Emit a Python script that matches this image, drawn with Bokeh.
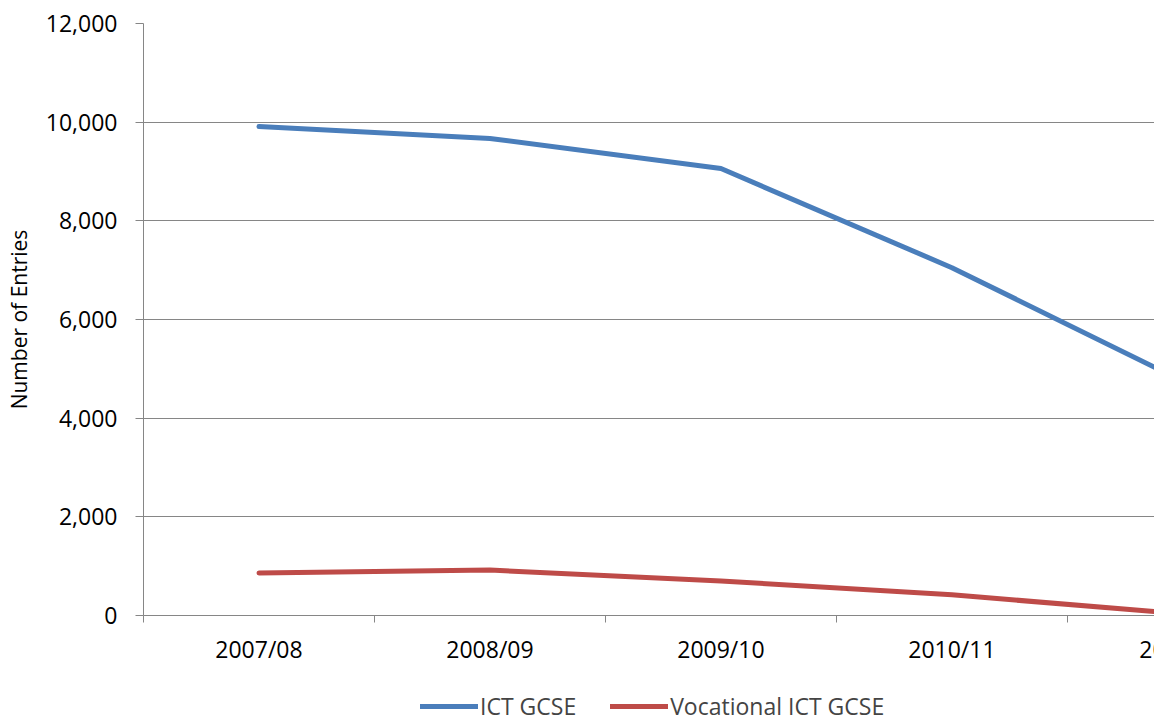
from bokeh.plotting import figure
from bokeh.models import (FixedTicker, NumeralTickFormatter, Legend, LegendItem, Range1d,
                          LabelSet, ColumnDataSource)
from bokeh.layouts import column
from bokeh.embed import file_html
from bokeh.resources import INLINE
from bokeh.core.properties import value

years = ["2007/08", "2008/09", "2009/10", "2010/11", "2011/12"]
ict_gcse = [9910, 9670, 9060, 7050, 4750]
vocational_ict_gcse = [860, 920, 700, 420, 30]
y_ticks = [0, 2000, 4000, 6000, 8000, 10000, 12000]

FONT = "Open Sans"
GRID = "#868686"
BLUE = "#4A7EBB"
RED = "#BE4B48"
X_END = 4.377   # the reference is cut just before the last category

xs = [i + 0.5 for i in range(len(years))]

# ---------------- main plot ----------------
p = figure(
    output_backend="svg", toolbar_location=None,
    frame_width=1011, frame_height=592,
    min_border_left=143, min_border_right=0, min_border_top=23, min_border_bottom=16,
    x_range=Range1d(0, X_END), y_range=Range1d(0, 12000),
)
p.outline_line_color = None

p.line(xs, ict_gcse, line_color=BLUE, line_width=5, line_cap="round", line_join="round")
p.line(xs, vocational_ict_gcse, line_color=RED, line_width=5, line_cap="round", line_join="round")

# x axis: boundary ticks only (category labels drawn in the strip below)
p.xaxis.ticker = FixedTicker(ticks=[], minor_ticks=[0, 1, 2, 3, 4])
p.xaxis.major_tick_out = 0
p.xaxis.major_tick_in = 0
p.xaxis.minor_tick_out = 7
p.xaxis.minor_tick_in = 0
p.xaxis.minor_tick_line_color = GRID
p.xaxis.axis_line_color = GRID
p.xaxis.major_label_standoff = 0
p.xaxis.major_label_text_font_size = "1px"

# y axis
p.yaxis.ticker = FixedTicker(ticks=y_ticks)
p.yaxis.formatter = NumeralTickFormatter(format="0,0")
p.yaxis.minor_tick_line_color = None
p.yaxis.major_tick_out = 8
p.yaxis.major_tick_in = 0
p.yaxis.major_tick_line_color = GRID
p.yaxis.axis_line_color = GRID
p.yaxis.major_label_standoff = 18
p.yaxis.major_label_text_font = FONT
p.yaxis.major_label_text_font_size = "23px"
p.yaxis.major_label_text_color = "black"
p.yaxis.axis_label = "Number of Entries"
p.yaxis.axis_label_text_font = FONT
p.yaxis.axis_label_text_font_size = "21px"
p.yaxis.axis_label_text_font_style = "normal"
p.yaxis.axis_label_text_color = "black"
p.yaxis.axis_label_standoff = 10

p.xgrid.grid_line_color = None
p.ygrid.ticker = FixedTicker(ticks=y_ticks)
p.ygrid.grid_line_color = GRID
p.ygrid.grid_line_width = 1

# ---------------- strip below: category labels + legend ----------------
STRIP_H = 91
q = figure(
    output_backend="svg", toolbar_location=None,
    frame_width=1011, frame_height=STRIP_H,
    min_border_left=143, min_border_right=0, min_border_top=0, min_border_bottom=0,
    x_range=p.x_range, y_range=Range1d(STRIP_H, 0),
    x_axis_type=None, y_axis_type=None,
)
q.outline_line_color = None
q.xgrid.grid_line_color = None
q.ygrid.grid_line_color = None
# a range far away from the data, so the legend's own lines stay out of sight
q.extra_y_ranges = {"off": Range1d(50000, 60000)}

src = ColumnDataSource(dict(x=xs, y=[17] * len(xs), text=years))
q.add_layout(LabelSet(x="x", y="y", text="text", source=src,
                      text_align="center", text_baseline="middle",
                      text_font=value(FONT), text_font_size="23px", text_color="black"))

l1 = q.line(xs, ict_gcse, y_range_name="off", line_color=BLUE, line_width=5, line_cap="round")
l2 = q.line(xs, vocational_ict_gcse, y_range_name="off", line_color=RED, line_width=5, line_cap="round")

legend = Legend(items=[LegendItem(label="ICT GCSE", renderers=[l1]),
                       LegendItem(label="Vocational ICT GCSE", renderers=[l2])],
                orientation="horizontal", location=(277, 0),
                label_text_font=FONT, label_text_font_size="23px",
                glyph_width=58, label_standoff=2, spacing=34,
                border_line_color=None, background_fill_alpha=0, margin=0, padding=0)
q.add_layout(legend)

open("out.html", "w").write(file_html(column(p, q, spacing=0), INLINE))
